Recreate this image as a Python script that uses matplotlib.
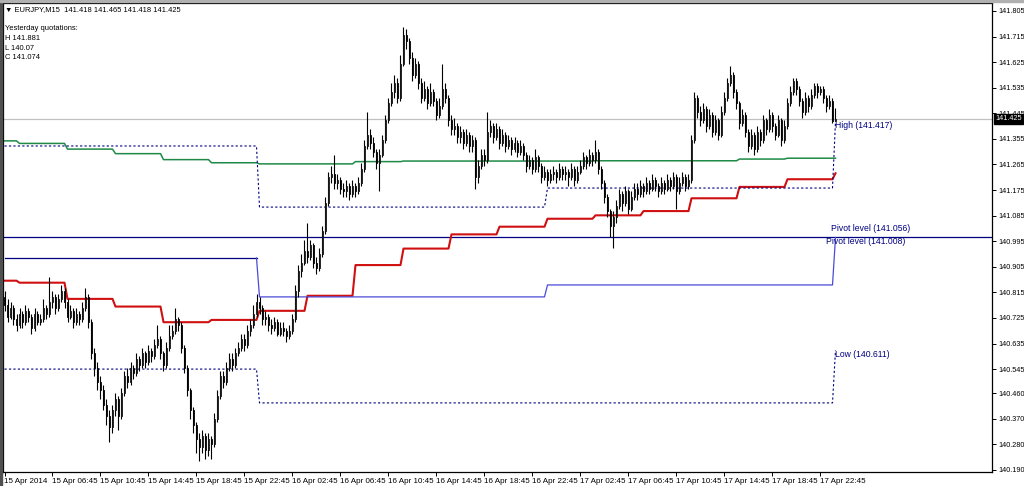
import numpy as np
import matplotlib
matplotlib.use('Agg')
import matplotlib.pyplot as plt
from matplotlib.patches import Rectangle

plt.rcParams['font.family'] = ['Liberation Sans', 'DejaVu Sans']

# header / info texts
symbol = 'EURJPY,M15'
header_ohlc = ['141.418', '141.465', '141.418', '141.425']
yesterday_lines = ['Yesterday quotations:', 'H 141.881', 'L 140.07', 'C 141.074']

# M15 candles, 15 Apr 02:45 .. 18 Apr 00:00 (open = previous close)
first_open = 140.80
closes = [
    140.77, 140.73, 140.76, 140.72, 140.70, 140.74, 140.71, 140.75, 140.73, 140.69,
    140.74, 140.71, 140.72, 140.76, 140.74, 140.78, 140.80, 140.76, 140.79, 140.82,
    140.78, 140.73, 140.75, 140.71, 140.74, 140.72, 140.76, 140.80, 140.71, 140.60,
    140.55, 140.50, 140.47, 140.42, 140.38, 140.34, 140.40, 140.44, 140.38, 140.46,
    140.52, 140.50, 140.55, 140.53, 140.58, 140.56, 140.60, 140.57, 140.61, 140.59,
    140.63, 140.65, 140.60, 140.56, 140.62, 140.66, 140.68, 140.72, 140.70, 140.62,
    140.55, 140.47, 140.40, 140.35, 140.30, 140.27, 140.31, 140.26, 140.30, 140.28,
    140.37, 140.45, 140.52, 140.50, 140.55, 140.58, 140.56, 140.60, 140.62, 140.65,
    140.63, 140.68, 140.70, 140.74, 140.78, 140.76, 140.72, 140.73, 140.70, 140.69,
    140.71, 140.67, 140.69, 140.68, 140.66, 140.68, 140.72, 140.82, 140.89, 140.92,
    140.96, 140.94, 140.98, 140.92, 140.90, 140.95, 141.03, 141.13, 141.22, 141.23,
    141.20, 141.21, 141.18, 141.17, 141.19, 141.16, 141.19, 141.17, 141.20, 141.25,
    141.33, 141.37, 141.34, 141.31, 141.27, 141.30, 141.35, 141.42, 141.48, 141.52,
    141.55, 141.50, 141.62, 141.72, 141.70, 141.64, 141.58, 141.62, 141.55, 141.50,
    141.53, 141.48, 141.52, 141.49, 141.44, 141.47, 141.53, 141.50, 141.42, 141.39,
    141.40, 141.36, 141.38, 141.34, 141.37, 141.33, 141.35, 141.22, 141.26, 141.30,
    141.28, 141.38, 141.40, 141.36, 141.39, 141.34, 141.37, 141.33, 141.35, 141.32,
    141.34, 141.31, 141.33, 141.30, 141.26, 141.28, 141.25, 141.29, 141.26, 141.22,
    141.24, 141.21, 141.23, 141.24, 141.22, 141.25, 141.23, 141.24, 141.22, 141.25,
    141.21, 141.24, 141.26, 141.29, 141.27, 141.30, 141.28, 141.31, 141.25, 141.20,
    141.15, 141.10, 141.05, 141.08, 141.12, 141.16, 141.13, 141.17, 141.11, 141.15,
    141.18, 141.16, 141.19, 141.17, 141.20, 141.18, 141.21, 141.19, 141.17, 141.20,
    141.18, 141.21, 141.19, 141.22, 141.17, 141.20, 141.22, 141.19, 141.21, 141.35,
    141.50, 141.45, 141.42, 141.46, 141.40, 141.44, 141.38, 141.42, 141.37, 141.45,
    141.50, 141.55, 141.58, 141.52, 141.48, 141.41, 141.44, 141.38, 141.33, 141.37,
    141.32, 141.38, 141.35, 141.42, 141.39, 141.44, 141.40, 141.37, 141.42, 141.35,
    141.40, 141.48, 141.52, 141.56, 141.53, 141.49, 141.45, 141.50, 141.47, 141.51,
    141.54, 141.52, 141.53, 141.50, 141.47, 141.49, 141.418, 141.425,
]
highs = [
    140.82, 140.79, 140.78, 140.77, 140.74, 140.76, 140.75, 140.77, 140.76, 140.74,
    140.76, 140.75, 140.74, 140.79, 140.77, 140.87, 140.82, 140.81, 140.81, 140.84,
    140.83, 140.79, 140.77, 140.76, 140.76, 140.75, 140.78, 140.83, 140.81, 140.72,
    140.62, 140.57, 140.52, 140.49, 140.44, 140.40, 140.42, 140.46, 140.45, 140.48,
    140.54, 140.55, 140.57, 140.56, 140.60, 140.59, 140.62, 140.61, 140.63, 140.62,
    140.65, 140.70, 140.66, 140.61, 140.64, 140.70, 140.70, 140.76, 140.73, 140.71,
    140.63, 140.56, 140.48, 140.41, 140.36, 140.32, 140.33, 140.32, 140.32, 140.31,
    140.39, 140.47, 140.54, 140.54, 140.57, 140.60, 140.60, 140.62, 140.64, 140.67,
    140.67, 140.70, 140.72, 140.77, 140.81, 140.80, 140.77, 140.75, 140.74, 140.72,
    140.73, 140.72, 140.71, 140.71, 140.69, 140.70, 140.74, 140.84, 140.91, 140.95,
    141.00, 141.06, 141.00, 140.99, 140.94, 140.97, 141.05, 141.15, 141.24, 141.26,
    141.30, 141.23, 141.22, 141.20, 141.21, 141.20, 141.21, 141.20, 141.22, 141.27,
    141.35, 141.45, 141.39, 141.36, 141.32, 141.32, 141.37, 141.44, 141.50, 141.55,
    141.58, 141.57, 141.65, 141.75, 141.74, 141.71, 141.66, 141.64, 141.63, 141.57,
    141.56, 141.54, 141.55, 141.53, 141.50, 141.50, 141.62, 141.55, 141.51, 141.44,
    141.43, 141.41, 141.40, 141.39, 141.39, 141.38, 141.37, 141.36, 141.28, 141.32,
    141.32, 141.45, 141.42, 141.41, 141.41, 141.40, 141.39, 141.38, 141.37, 141.36,
    141.36, 141.35, 141.35, 141.34, 141.31, 141.30, 141.29, 141.32, 141.30, 141.27,
    141.26, 141.25, 141.25, 141.26, 141.25, 141.27, 141.26, 141.26, 141.25, 141.27,
    141.26, 141.26, 141.28, 141.31, 141.30, 141.32, 141.31, 141.35, 141.32, 141.26,
    141.21, 141.16, 141.11, 141.10, 141.14, 141.18, 141.17, 141.19, 141.18, 141.17,
    141.20, 141.20, 141.21, 141.20, 141.22, 141.21, 141.23, 141.22, 141.20, 141.22,
    141.21, 141.23, 141.22, 141.24, 141.23, 141.22, 141.24, 141.23, 141.23, 141.37,
    141.52, 141.51, 141.47, 141.48, 141.47, 141.46, 141.45, 141.44, 141.43, 141.47,
    141.52, 141.57, 141.61, 141.59, 141.53, 141.49, 141.46, 141.45, 141.39, 141.39,
    141.38, 141.40, 141.39, 141.44, 141.43, 141.46, 141.45, 141.41, 141.44, 141.43,
    141.42, 141.50, 141.54, 141.57, 141.57, 141.54, 141.50, 141.52, 141.51, 141.53,
    141.55, 141.55, 141.54, 141.54, 141.51, 141.51, 141.50, 141.465,
]
lows = [
    140.75, 140.71, 140.72, 140.70, 140.68, 140.69, 140.69, 140.70, 140.71, 140.67,
    140.68, 140.70, 140.70, 140.71, 140.72, 140.73, 140.76, 140.74, 140.75, 140.78,
    140.76, 140.71, 140.72, 140.69, 140.70, 140.70, 140.71, 140.75, 140.69, 140.58,
    140.52, 140.47, 140.44, 140.40, 140.35, 140.29, 140.32, 140.38, 140.33, 140.37,
    140.45, 140.48, 140.49, 140.51, 140.52, 140.54, 140.55, 140.55, 140.56, 140.57,
    140.58, 140.62, 140.58, 140.54, 140.55, 140.61, 140.65, 140.67, 140.68, 140.60,
    140.53, 140.45, 140.37, 140.32, 140.25, 140.22, 140.25, 140.23, 140.24, 140.23,
    140.27, 140.36, 140.44, 140.48, 140.49, 140.54, 140.54, 140.55, 140.59, 140.61,
    140.61, 140.62, 140.66, 140.69, 140.73, 140.74, 140.70, 140.70, 140.68, 140.67,
    140.68, 140.66, 140.66, 140.66, 140.64, 140.65, 140.67, 140.71, 140.80, 140.87,
    140.91, 140.92, 140.93, 140.90, 140.88, 140.89, 140.94, 141.02, 141.12, 141.20,
    141.18, 141.18, 141.16, 141.15, 141.15, 141.14, 141.15, 141.15, 141.16, 141.19,
    141.24, 141.32, 141.32, 141.29, 141.25, 141.17, 141.29, 141.34, 141.41, 141.47,
    141.50, 141.48, 141.49, 141.61, 141.67, 141.62, 141.56, 141.57, 141.53, 141.48,
    141.49, 141.46, 141.47, 141.47, 141.42, 141.43, 141.46, 141.48, 141.40, 141.37,
    141.37, 141.34, 141.34, 141.32, 141.33, 141.31, 141.31, 141.18, 141.20, 141.25,
    141.26, 141.27, 141.36, 141.34, 141.35, 141.32, 141.33, 141.31, 141.32, 141.30,
    141.31, 141.29, 141.30, 141.28, 141.24, 141.25, 141.23, 141.24, 141.24, 141.20,
    141.21, 141.19, 141.20, 141.21, 141.20, 141.21, 141.21, 141.21, 141.19, 141.21,
    141.19, 141.20, 141.23, 141.25, 141.25, 141.26, 141.26, 141.27, 141.23, 141.18,
    141.13, 141.08, 141.01, 140.97, 141.06, 141.11, 141.10, 141.12, 141.09, 141.10,
    141.14, 141.14, 141.15, 141.15, 141.16, 141.16, 141.17, 141.17, 141.15, 141.16,
    141.16, 141.17, 141.17, 141.18, 141.11, 141.16, 141.19, 141.17, 141.18, 141.20,
    141.34, 141.43, 141.40, 141.41, 141.38, 141.39, 141.36, 141.37, 141.35, 141.36,
    141.44, 141.49, 141.54, 141.50, 141.46, 141.39, 141.40, 141.36, 141.31, 141.32,
    141.30, 141.31, 141.33, 141.34, 141.37, 141.38, 141.38, 141.35, 141.36, 141.33,
    141.34, 141.39, 141.47, 141.51, 141.51, 141.47, 141.43, 141.44, 141.45, 141.46,
    141.50, 141.50, 141.51, 141.48, 141.45, 141.46, 141.41, 141.418,
]

# H4 step indicators: one value per 4-hour block
block_len = [5] + [16] * 17 + [1]
green_ma = [141.348, 141.339, 141.319, 141.303, 141.282, 141.271, 141.267, 141.267,
            141.275, 141.277, 141.277, 141.277, 141.277, 141.278, 141.278, 141.278,
            141.284, 141.287, 141.287]
red_ma = [140.856, 140.849, 140.792, 140.765, 140.710, 140.718, 140.750, 140.803,
          140.911, 140.969, 141.019, 141.046, 141.074, 141.086, 141.101, 141.146,
          141.186, 141.213, 141.234]

# daily levels
day_len = [85, 96, 96, 1]
day_high = [141.330, 141.115, 141.182, 141.417]
day_low = [140.545, 140.426, 140.426, 140.611]
day_pivot = [140.936, 140.799, 140.841, 141.008]

pivot_line = 141.008
pivot_labels = [('Pivot level (141.056)', 141.056), ('Pivot level (141.008)', 141.008)]
high_label = 'High (141.417)'
low_label = 'Low (140.611)'
bid = 141.425

xtick_labels = ['15 Apr 2014', '15 Apr 06:45', '15 Apr 10:45', '15 Apr 14:45',
                '15 Apr 18:45', '15 Apr 22:45', '16 Apr 02:45', '16 Apr 06:45',
                '16 Apr 10:45', '16 Apr 14:45', '16 Apr 18:45', '16 Apr 22:45',
                '17 Apr 02:45', '17 Apr 06:45', '17 Apr 10:45', '17 Apr 14:45',
                '17 Apr 18:45', '17 Apr 22:45']
ytick_labels = ['141.805', '141.715', '141.625', '141.535', '141.445', '141.355',
                '141.265', '141.175', '141.085', '140.995', '140.905', '140.815',
                '140.725', '140.635', '140.545', '140.460', '140.370', '140.280',
                '140.190']

NAVY = '#000080'
FS = 5.2

fig = plt.figure(figsize=(10.24, 4.86), dpi=100)
ax = fig.add_axes([3 / 1024, 14 / 486, 989 / 1024, 469 / 486])

n = len(closes)
x = np.arange(n)
c = np.array(closes)
o = np.array([first_open] + closes[:-1])
h = np.array(highs)
l = np.array(lows)

green = np.repeat(green_ma, block_len)
red = np.repeat(red_ma, block_len)
dh = np.repeat(day_high, day_len)
dl = np.repeat(day_low, day_len)
dp = np.repeat(day_pivot, day_len)

# horizontal lines
ax.axhline(bid, color='#c0c0c0', lw=0.9, zorder=1)
ax.axhline(pivot_line, color=NAVY, lw=0.9, zorder=1)

# indicators
ax.plot(x, green, color='#1e8a46', lw=1.1, zorder=2)
ax.plot(x, red, color='#d01010', lw=1.5, zorder=2)
dash = (0, (2, 2))
ax.plot(x, dh, color=NAVY, lw=0.8, ls=dash, zorder=2)
ax.plot(x, dl, color=NAVY, lw=0.8, ls=dash, zorder=2)
ax.plot(x[:85], dp[:85], color=NAVY, lw=0.9, zorder=2)
ax.plot(x[84:], dp[84:], color='#4a4ad8', lw=0.9, zorder=2)

# candles
ax.vlines(x, l, h, color='black', lw=0.8, zorder=3)
up = c >= o
bot = np.minimum(o, c)
hgt = np.maximum(np.abs(c - o), 0.002)
ax.bar(x[up], hgt[up], bottom=bot[up], width=0.62, color='white',
       edgecolor='black', lw=0.6, zorder=4)
ax.bar(x[~up], hgt[~up], bottom=bot[~up], width=0.62, color='black',
       edgecolor='black', lw=0.6, zorder=4)

# level labels
ax.text(n - 1, day_high[-1], high_label, color=NAVY, fontsize=6.2,
        ha='left', va='top', zorder=5)
ax.text(n - 1, day_low[-1], low_label, color=NAVY, fontsize=6.2,
        ha='left', va='top', zorder=5)
ax.text(n - 2.6, pivot_labels[0][1], pivot_labels[0][0], color=NAVY, fontsize=6.2,
        ha='left', va='top', zorder=5)
ax.text(n - 4.0, pivot_labels[1][1], pivot_labels[1][0], color=NAVY, fontsize=6.2,
        ha='left', va='top', zorder=5)

ax.set_xlim(-0.5, -0.5 + 989 / 3)
ax.set_ylim(140.1829, 141.8331)

ax.set_xticks(np.arange(0, n, 16))
ax.set_xticklabels(xtick_labels, fontsize=5.8, ha='left')
ax.set_yticks([float(v) for v in ytick_labels])
ax.set_yticklabels(ytick_labels, fontsize=FS)
ax.yaxis.tick_right()
ax.tick_params(axis='both', direction='out', length=3, width=0.7, color='black')
ax.tick_params(axis='x', pad=1)
ax.tick_params(axis='y', pad=1.5)
for s in ax.spines.values():
    s.set_linewidth(0.9)
    s.set_color('black')

# bid price box on the axis
ax.text(1.0035, bid, header_ohlc[3], transform=ax.get_yaxis_transform(),
        color='white', fontsize=FS, ha='left', va='center', zorder=6,
        bbox=dict(facecolor='black', edgecolor='black', pad=0.8))

# header and info block
ax.text(0.002, 0.987, '\u25bc ' + symbol + '  ' + ' '.join(header_ohlc),
        transform=ax.transAxes, fontsize=5.4, ha='left', va='center')
for k, line in enumerate(yesterday_lines):
    ax.text(0.002, 0.945 - k * 0.0205, line, transform=ax.transAxes,
            fontsize=5.4, ha='left', va='center')

# window border
fig.patches.append(Rectangle((0, 0), 2 / 1024, 1, transform=fig.transFigure,
                             color='#505050', zorder=0))
fig.patches.append(Rectangle((0, 1 - 2 / 486), 1, 2 / 486, transform=fig.transFigure,
                             color='#b0b0b0', zorder=0))

fig.savefig('out.png', dpi=100)
